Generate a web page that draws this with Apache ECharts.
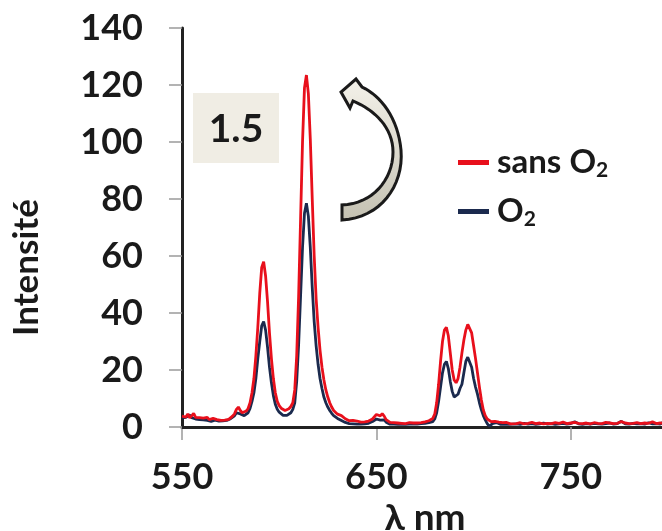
<!DOCTYPE html>
<html><head><meta charset="utf-8">
<script src="https://cdn.jsdelivr.net/npm/echarts@6/dist/echarts.min.js"></script>
<style>html,body{margin:0;padding:0;background:#fff;overflow:hidden}#c{width:662px;height:531px}</style>
</head><body><div id="c"></div>
<script>
const wavelengths = [
550,551,552,553,554,555,556,557,558,559,560,561,562,563,564,565,566,567,568,569,
570,571,572,573,574,575,576,577,578,579,580,581,582,583,584,585,586,587,588,589,
590,591,592,593,594,595,596,597,598,599,600,601,602,603,604,605,606,607,608,609,
610,611,612,613,614,615,616,617,618,619,620,621,622,623,624,625,626,627,628,629,
630,631,632,633,634,635,636,637,638,639,640,641,642,643,644,645,646,647,648,649,
650,651,652,653,654,655,656,657,658,659,660,661,662,663,664,665,666,667,668,669,
670,671,672,673,674,675,676,677,678,679,680,681,682,683,684,685,686,687,688,689,
690,691,692,693,694,695,696,697,698,699,700,701,702,703,704,705,706,707,708,709,
710,711,712,713,714,715,716,717,718,719,720,
722,724,726,728,730,732,734,736,738,740,742,744,746,748,750,752,754,756,758,760,
762,764,766,768,770,772,774,776,778,780,782,784,786,788,790,792,794,796,798,800];

const sansO2 = [
3.8,4.2,3.5,4.6,3.2,3.6,4.8,3.4,3.0,3.3,2.8,3.1,2.7,3.4,2.6,2.5,3.0,2.4,2.6,3.1,
2.3,2.6,2.4,2.9,2.7,3.3,3.8,4.6,6.2,7.0,5.8,5.0,4.9,5.6,6.5,8.5,12,17,25,35,
47,56,58,53,44,33,24,17,12,9,7.5,6.6,6.1,5.8,6.0,6.4,7.2,8.5,13,25,
46,73,100,119,123.5,117,101,80,60,45,35,27,21,16.5,13,10.5,8.5,7,5.8,5.1,
4.5,4.8,4.0,3.4,2.9,2.6,2.2,2.0,2.3,1.8,2.1,1.9,1.7,2.0,1.8,1.9,2.1,2.4,2.8,3.6,
4.4,4.6,3.9,4.7,3.8,2.6,1.9,1.6,1.4,1.5,1.3,1.4,1.2,1.3,1.4,1.2,1.3,1.5,1.3,1.4,
1.5,1.4,1.6,1.5,1.7,1.8,2.0,2.2,2.5,3.0,4.5,8.5,15,23,30,34,35,32,26,20,
16.5,15.5,17,21,26,30.5,34,36,36.5,33,28.5,24,19,14,9.5,6,4,2.8,2.3,1.9,
1.6,2.0,1.4,1.7,1.3,1.5,1.2,1.6,1.3,1.1,1.4,
1.2,1.5,1.1,1.3,1.6,1.2,1.4,1.1,1.3,1.2,1.5,1.3,1.7,1.2,1.4,1.6,1.3,1.2,1.4,1.1,
1.5,1.3,1.2,1.6,1.4,1.2,1.3,1.9,1.4,1.2,1.3,1.5,1.2,1.4,1.3,1.8,1.2,1.4,1.3,1.5];

const withO2 = [
3.2,3.9,3.4,3.0,4.2,3.3,3.1,2.8,3.2,2.6,2.9,2.5,2.8,2.3,2.5,2.0,1.8,2.4,1.9,2.1,
1.7,2.2,1.9,2.3,2.5,2.9,3.3,3.9,5.0,5.4,4.6,4.2,4.0,4.4,5.0,6.5,9,12,17,24,
30,35.5,37,34,28,21,15.5,11,8,6.2,5.2,4.5,4.1,4.0,4.1,4.4,5.0,6.2,8.5,16,
29,46,63,75,78.5,74,63,49,37,28.5,22,17,13.5,10.5,8.5,7,5.8,4.8,4.0,3.4,
3.0,2.7,2.3,1.9,1.6,1.4,1.2,1.3,1.1,1.2,1.0,1.1,1.0,1.2,1.1,1.2,1.3,1.5,1.9,2.4,
2.8,2.7,2.4,2.9,2.5,1.7,1.2,1.0,0.9,1.0,0.8,0.9,0.8,0.9,0.8,0.9,0.8,1.0,0.9,1.0,
1.1,1.0,1.1,1.2,1.2,1.3,1.4,1.5,1.6,1.9,2.8,5,9,14,19,22,23,20.5,16,12.5,
10.5,10,11.5,13.5,15,19,23,24.5,24,21,17,14,11.5,8.5,6,4,2.5,1.2,0.3,0.8,
1.3,1.0,1.5,1.1,0.9,1.2,1.0,1.3,0.9,1.1,1.0,
1.1,0.9,1.3,1.0,1.2,0.9,1.1,1.4,1.0,1.2,0.9,1.1,1.3,1.0,1.2,1.8,1.1,0.9,1.2,1.0,
1.3,1.1,1.0,1.2,1.4,1.0,1.2,2.0,1.1,1.0,1.3,1.1,1.2,1.0,1.5,1.1,1.2,1.0,1.9,1.1];

const xTicks = [550, 650, 750];
const yTicks = [0, 20, 40, 60, 80, 100, 120, 140];
const seriesNames = ['sans O2', 'O2'];
const ratioLabel = '1.5';

const FONT = 'Lato, "Noto Sans", sans-serif';
const TXT = '#1a1a1a';

// decorative curved arrow outline (pixel space), built from cubic Bezier segments
function bez(p0, p1, p2, p3, n) {
  const out = [];
  for (let i = 1; i <= n; i++) {
    const t = i / n, u = 1 - t;
    out.push([
      u*u*u*p0[0] + 3*u*u*t*p1[0] + 3*u*t*t*p2[0] + t*t*t*p3[0],
      u*u*u*p0[1] + 3*u*u*t*p1[1] + 3*u*t*t*p2[1] + t*t*t*p3[1]
    ]);
  }
  return out;
}
const arrowPts = [[342, 220]]
  .concat(bez([342,220],[380,218],[404,186],[401,150],16))
  .concat(bez([401,150],[398,118],[381,96],[362,87],16))
  .concat([[356,79],[341,92],[350,108],[353,101]])
  .concat(bez([353,101],[375,110],[393,128],[393,152],16))
  .concat(bez([393,152],[393,180],[372,204],[342,205],16));

const chart = echarts.init(document.getElementById('c'), null, {renderer: 'canvas'});
const mk = vals => wavelengths.map((w, i) => [w, vals[i]]);

chart.setOption({
  animation: false,
  backgroundColor: '#fff',
  grid: {left: 182, top: 28, width: 486, height: 399, outerBoundsMode: 'none'},
  legend: {
    data: seriesNames,
    orient: 'vertical',
    left: 453, top: 141,
    itemWidth: 31, itemHeight: 5, itemGap: 14,
    icon: 'rect',
    formatter: n => n === 'sans O2' ? '{t|sans O}{s|2}' : '{t|O}{s|2}',
    textStyle: {
      color: TXT,
      rich: {
        t: {fontFamily: FONT, fontWeight: 'bold', fontSize: 33, color: TXT, padding: [0, 0, 0, 3]},
        s: {fontFamily: FONT, fontWeight: 'bold', fontSize: 21, color: TXT, padding: [16, 0, 0, 0]}
      }
    }
  },
  xAxis: [{
    type: 'value', min: 550, max: 800, interval: 100,
    name: 'λ nm', nameLocation: 'middle', nameGap: 66,
    nameTextStyle: {fontFamily: FONT, fontWeight: 'bold', fontSize: 37, color: TXT, padding: [0, 0, 0, 0]},
    axisLine: {show: true, onZero: false, lineStyle: {color: '#9a9a9a', width: 1.5}},
    axisTick: {show: true, length: 13, lineStyle: {color: '#9a9a9a', width: 1.5}},
    axisLabel: {margin: 32, fontFamily: FONT, fontWeight: 'bold', fontSize: 36, color: TXT,
      formatter: v => xTicks.includes(v) ? String(v) : ''},
    splitLine: {show: false}
  }, {
    type: 'value', min: 550, max: 800, position: 'top',
    axisLine: {show: true, lineStyle: {color: '#222', width: 3}},
    axisTick: {show: false}, axisLabel: {show: false}, splitLine: {show: false}
  }],
  yAxis: {
    type: 'value', min: 0, max: 140, interval: 20,
    name: 'Intensité', nameLocation: 'middle', nameGap: 138, nameRotate: 90,
    nameTextStyle: {fontFamily: FONT, fontWeight: 'bold', fontSize: 35, color: TXT, padding: [0, 80, 0, 0]},
    axisLine: {show: true, lineStyle: {color: '#222', width: 3}},
    axisTick: {show: true, length: 13, lineStyle: {color: '#9a9a9a', width: 1.5}},
    axisLabel: {margin: 39, fontFamily: FONT, fontWeight: 'bold', fontSize: 36, color: TXT,
      formatter: v => yTicks.includes(v) ? String(v) : ''},
    splitLine: {show: false}
  },
  series: [
    {
      name: 'O2', type: 'line', data: mk(withO2), showSymbol: false, symbol: 'none',
      lineStyle: {color: '#1b2a4e', width: 2.8}, itemStyle: {color: '#1b2a4e'}, z: 2
    },
    {
      name: 'sans O2', type: 'line', data: mk(sansO2), showSymbol: false, symbol: 'none',
      lineStyle: {color: '#e8101c', width: 2.8}, itemStyle: {color: '#e8101c'}, z: 3,
      markLine: {
        silent: true, symbol: 'none', label: {show: false},
        lineStyle: {color: '#222', width: 3, type: 'solid'},
        data: [[{coord: [550, 0]}, {coord: [707.5, 0]}]]
      }
    }
  ],
  graphic: [
    {
      type: 'rect', x: 193, y: 93, shape: {x: 0, y: 0, width: 86, height: 70}, style: {fill: '#f0ede4'}
    },
    {
      type: 'text', x: 236, y: 129, style: {text: ratioLabel, fontFamily: FONT, fontWeight: 'bold', fontSize: 39, fill: TXT, align: 'center', verticalAlign: 'middle'}
    },
    {
      type: 'polygon', z: 10,
      shape: {points: arrowPts},
      style: {
        fill: {type: 'linear', x: 0, y: 0, x2: 0, y2: 1, colorStops: [{offset: 0, color: '#f4f2ea'}, {offset: 1, color: '#c4c1b2'}]},
        stroke: '#1a1a1a', lineWidth: 3, lineJoin: 'miter'
      }
    }
  ]
});
</script></body></html>
